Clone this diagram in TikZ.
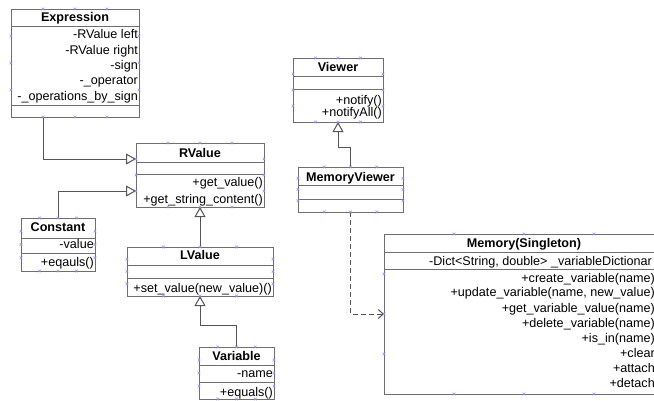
\documentclass[tikz,border=0pt]{standalone}
\usepackage{fontspec}
\setmainfont{Liberation Sans}
\usetikzlibrary{arrows.meta,calc}

\definecolor{umlline}{HTML}{6E6E6E}
\definecolor{umlconn}{HTML}{555555}
\definecolor{handleblue}{HTML}{9090F8}

\newcommand\umlfont{\fontsize{12.6}{15}\selectfont}

\tikzset{
  cls/.style={draw=umlline, line width=1pt, fill=white, rectangle, anchor=north west,
              inner sep=0pt, outer sep=0pt},
  sepline/.style={draw=umlline, line width=1pt},
  title/.style={font=\umlfont\bfseries, anchor=base, inner sep=0pt},
  member/.style={font=\umlfont, anchor=base east, inner sep=0pt},
  gen/.style={draw=umlconn, line width=1pt,
              -{Triangle[open, length=10pt, width=11pt, fill=white]}},
  dep/.style={draw=umlconn, line width=1pt, dash pattern=on 5pt off 3pt,
              -{Straight Barb[length=5pt, width=9pt]}},
  handlemark/.pic={\draw[handleblue, line width=0.6pt] (-1.3,-1.3) -- (1.3,1.3) (-1.3,1.3) -- (1.3,-1.3);}
}

% selection handles at the quarter points of each side of a class box
\newcommand\umlhandles[1]{%
  \foreach \f in {0.25,0.5,0.75}{%
    \path ($(#1.north west)!\f!(#1.north east)$) pic {handlemark}
          ($(#1.south west)!\f!(#1.south east)$) pic {handlemark}
          ($(#1.north west)!\f!(#1.south west)$) pic {handlemark}
          ($(#1.north east)!\f!(#1.south east)$) pic {handlemark};
  }}

% horizontal compartment line #2 pt below the top of box #1
\newcommand\umlsep[2]{%
  \draw[sepline] ($(#1.north west)+(0,#2)$) -- ($(#1.north east)+(0,#2)$);}

\begin{document}
\begin{tikzpicture}[x=1pt, y=-1pt]
\path[use as bounding box, clip] (0,0) rectangle (654,400);
\fill[white] (0,0) rectangle (654,400);

% ---- class boxes ----
\node[cls, minimum width=128pt, minimum height=108pt] (expr)     at (11,9)    {};
\node[cls, minimum width=128pt, minimum height=64pt]  (rvalue)   at (136,143) {};
\node[cls, minimum width=74pt,  minimum height=53pt]  (const)    at (21,218)  {};
\node[cls, minimum width=146pt, minimum height=49pt]  (lvalue)   at (127,247) {};
\node[cls, minimum width=75pt,  minimum height=52pt]  (variable) at (199,347) {};
\node[cls, minimum width=90pt,  minimum height=64pt]  (viewer)   at (293,58)  {};
\node[cls, minimum width=105pt, minimum height=45pt]  (mviewer)  at (298,167) {};
\node[cls, minimum width=280pt, minimum height=160pt] (memory)   at (384,234) {};

% ---- compartments ----
\umlsep{expr}{17}     \umlsep{expr}{96}
\umlsep{rvalue}{19}   \umlsep{rvalue}{31}
\umlsep{const}{20}    \umlsep{const}{35}
\umlsep{lvalue}{18}   \umlsep{lvalue}{31}
\umlsep{variable}{18} \umlsep{variable}{35}
\umlsep{viewer}{18}   \umlsep{viewer}{31}
\umlsep{mviewer}{18}  \umlsep{mviewer}{32}
\umlsep{memory}{18}   \umlsep{memory}{35}

% ---- Expression ----
\node[title]  (exprT)  at (75,21)    {Expression};
\node[member] (exprA1) at (138,38.5) {-RValue left};
\node[member] (exprA2) at (138,54)   {-RValue right};
\node[member] (exprA3) at (138,69)   {-sign};
\node[member] (exprA4) at (138,84.5) {-\_operator};
\node[member] (exprA5) at (138,100)  {-\_operations\_by\_sign};

% ---- RValue ----
\node[title]  (rvalT)  at (200,157)   {RValue};
\node[member] (rvalM1) at (263,186.5) {+get\_value()};
\node[member] (rvalM2) at (263,203)   {+get\_string\_content()};

% ---- Constant ----
\node[title]  (constT)  at (58,231)   {Constant};
\node[member] (constA1) at (94,248.5) {-value};
\node[member] (constM1) at (94,266)   {+eqauls()};

% ---- LValue ----
\node[title]  (lvalT)  at (200,259.5) {LValue};
\node[member] (lvalM1) at (272,292.5) {+set\_value(new\_value)()};

% ---- Variable ----
\node[title]  (varT)  at (236.5,360.5) {Variable};
\node[member] (varA1) at (273,377.5)   {-name};
\node[member] (varM1) at (273,396.5)   {+equals()};

% ---- Viewer ----
\node[title]  (viewT)  at (338,71)    {Viewer};
\node[member] (viewM1) at (382,104.5) {+notify()};
\node[member] (viewM2) at (382,116.5) {+notifyAll()};

% ---- MemoryViewer ----
\node[title] (mviewT) at (350.5,181.5) {MemoryViewer};

% ---- Memory(Singleton) ----
\node[title] (memT) at (524,247.5) {Memory(Singleton)};
\node[font=\umlfont, anchor=base west, inner sep=0pt] (memA1) at (429,265.5)
  {-Dict<String, double> \_variableDictionar};
\node[member] (memM1) at (655,282.5) {+create\_variable(name)};
\node[member] (memM2) at (655,296.5) {+update\_variable(name, new\_value)};
\node[member] (memM3) at (655,312.5) {+get\_variable\_value(name)};
\node[member] (memM4) at (655,327.5) {+delete\_variable(name)};
\node[member] (memM5) at (655,342.5) {+is\_in(name)};
\node[member] (memM6) at (655,357.5) {+clear};
\node[member] (memM7) at (655,372.5) {+attach};
\node[member] (memM8) at (655,387.5) {+detach};

% ---- relations ----
\draw[gen] ($(expr.south west)!.25!(expr.south east)$) |- ($(rvalue.north west)!.25!(rvalue.south west)$);
\draw[gen] (const.north) |- ($(rvalue.north west)!.75!(rvalue.south west)$);
\draw[gen] (lvalue.north) -- (rvalue.south);
\draw[gen] (variable.north) -- ++(0,-22) -| (lvalue.south);
\draw[gen] (mviewer.north) -- ++(0,-20) -| (viewer.south);
\draw[dep] (mviewer.south) |- (memory.west);

% ---- selection handles ----
\foreach \n in {expr,rvalue,const,lvalue,variable,viewer,mviewer,memory}{\umlhandles{\n}}
\end{tikzpicture}
\end{document}
